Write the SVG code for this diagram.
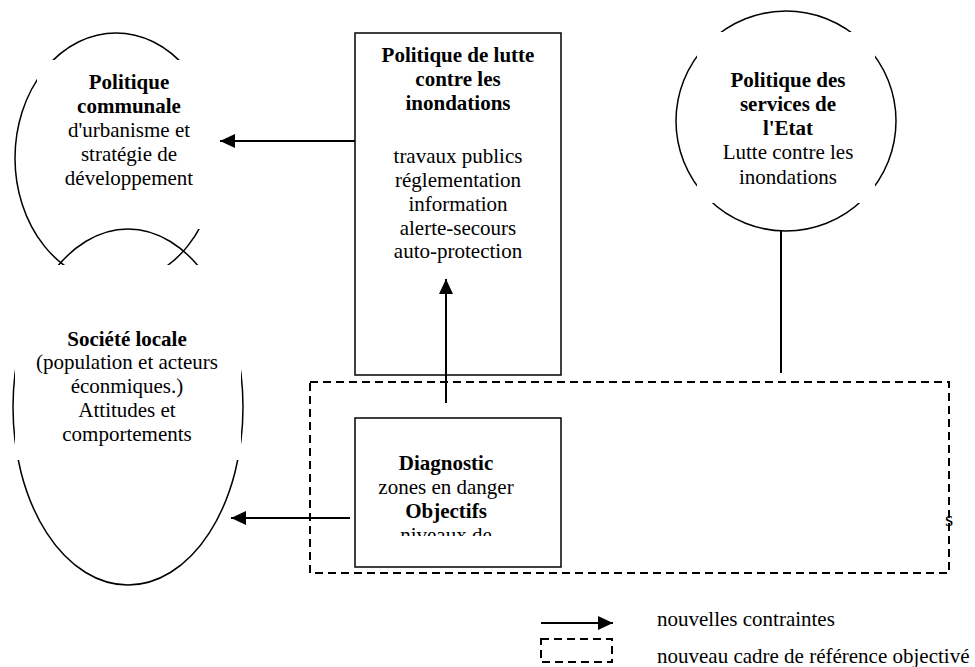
<svg xmlns="http://www.w3.org/2000/svg" width="975" height="667" viewBox="0 0 975 667">
<defs>
<marker id="ah" markerUnits="userSpaceOnUse" markerWidth="16" markerHeight="15" refX="15" refY="7" orient="auto"><path d="M0,0 L15,7 L0,14 z" fill="#000"/></marker>
<clipPath id="diagClip"><rect x="355" y="418" width="206" height="118"/></clipPath>
</defs>
<style>
.t{font-family:"Liberation Serif","Times New Roman",serif;font-size:21px;fill:#000;text-anchor:middle}
.b{font-weight:bold}
.l{text-anchor:start}
.shape{fill:none;stroke:#000;stroke-width:1.5}
.mask{fill:#fff;stroke:none}
.dash{fill:none;stroke:#000;stroke-width:2;stroke-dasharray:8 5}
.conn{stroke:#000;stroke-width:2;fill:none}
</style>
<rect width="975" height="667" fill="#fff"/>

<g id="politique-communale">
<ellipse class="shape" cx="116" cy="158" rx="101" ry="125"/>
<rect class="mask" x="37" y="60" width="183" height="169"/>
<text class="t b" x="129" y="89">Politique</text>
<text class="t b" x="129" y="113">communale</text>
<text class="t" x="129" y="137">d'urbanisme et</text>
<text class="t" x="129" y="161">stratégie de</text>
<text class="t" x="129" y="185">développement</text>
</g>

<g id="societe-locale">
<ellipse class="shape" cx="128" cy="407" rx="115" ry="178"/>
<rect class="mask" x="15" y="265" width="226" height="195"/>
<text class="t b" x="127" y="346">Société locale</text>
<text class="t" x="127" y="369">(population et acteurs</text>
<text class="t" x="127" y="393">éconmiques.)</text>
<text class="t" x="127" y="417">Attitudes et</text>
<text class="t" x="127" y="441">comportements</text>
</g>

<g id="politique-lutte">
<rect class="shape" x="355" y="33" width="206" height="342"/>
<text class="t b" x="458" y="62">Politique de lutte</text>
<text class="t b" x="458" y="86">contre les</text>
<text class="t b" x="458" y="110">inondations</text>
<text class="t" x="458" y="163">travaux publics</text>
<text class="t" x="458" y="187">réglementation</text>
<text class="t" x="458" y="211">information</text>
<text class="t" x="458" y="235">alerte-secours</text>
<text class="t" x="458" y="258">auto-protection</text>
</g>

<g id="politique-etat">
<circle class="shape" cx="786" cy="121" r="110"/>
<rect class="mask" x="697" y="32" width="178" height="171"/>
<text class="t b" x="788" y="87">Politique des</text>
<text class="t b" x="788" y="111">services de</text>
<text class="t b" x="788" y="135">l'Etat</text>
<text class="t" x="788" y="159">Lutte contre les</text>
<text class="t" x="788" y="184">inondations</text>
</g>

<g id="cadre-reference">
<rect class="dash" x="310" y="382" width="639" height="191"/>
<text class="t l" x="945" y="526">s</text>
</g>

<g id="diagnostic">
<rect class="shape" x="355" y="418" width="206" height="149"/>
<g clip-path="url(#diagClip)">
<text class="t b" x="446" y="470">Diagnostic</text>
<text class="t" x="446" y="494">zones en danger</text>
<text class="t b" x="446" y="518">Objectifs</text>
<text class="t" x="446" y="542">niveaux de</text>
</g>
</g>

<g id="connectors">
<path class="conn" d="M355,141 H220" marker-end="url(#ah)"/>
<path class="conn" d="M446,403 V279" marker-end="url(#ah)"/>
<path class="conn" d="M350,518 H231" marker-end="url(#ah)"/>
<path class="conn" d="M781,231 V373"/>
</g>

<g id="legende">
<path class="conn" d="M541,623 H613" marker-end="url(#ah)"/>
<text class="t l" x="657" y="626">nouvelles contraintes</text>
<rect class="dash" x="541" y="639" width="71" height="23"/>
<text class="t l" x="657" y="663">nouveau cadre de référence objectivé</text>
</g>
</svg>
